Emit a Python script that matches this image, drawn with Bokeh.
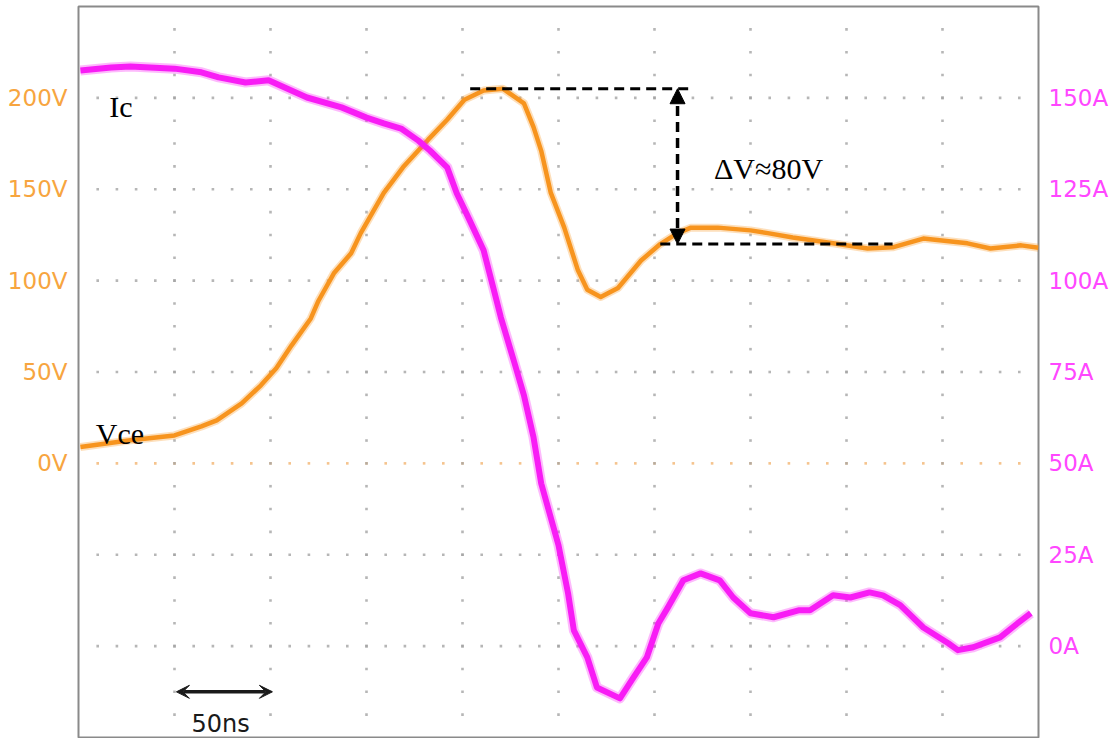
import numpy as np
from bokeh.plotting import figure
from bokeh.models import Range1d, LinearAxis, FixedTicker, Label, Arrow, NormalHead, VeeHead
from bokeh.embed import file_html
from bokeh.resources import INLINE

# Turn-off transient: time in ns, collector-emitter voltage in V, collector current in A
vce_t = [1, 27, 50, 64, 72, 85, 95, 103, 111, 121, 125, 133, 142, 147, 159, 169, 182, 192, 201,
         211, 221, 232, 237, 241, 246, 253, 260, 265, 272, 281, 293, 303, 312, 319, 333, 350,
         359, 372, 393, 411, 424, 440, 463, 475, 491, 500]
vce_v = [9, 12.6, 15.3, 20.2, 23.5, 32.8, 42.7, 52, 64.6, 79.3, 89, 104, 115, 126, 148, 162, 177,
         188, 199, 204, 205, 197, 184, 171, 148, 129, 106, 95, 91, 96, 111, 120, 126, 129, 129,
         127.5, 126, 123.6, 120.4, 117.6, 118.2, 123, 120.4, 117.6, 119.3, 118]

ic_t = [1, 17, 27, 50, 64, 73, 87, 99, 119, 137, 150, 159, 168, 177, 183, 192, 197, 203, 211,
        216, 220, 227, 232, 237, 241, 250, 255, 258, 265, 270, 282, 289, 296, 302, 307, 315,
        324, 334, 341, 350, 362, 375, 381, 393, 402, 412, 419, 428, 440, 453, 458, 466, 480,
        489, 496]
ic_a = [157.5, 158.3, 158.6, 158, 157, 155.6, 154.2, 154.8, 150.1, 147.4, 144.6, 143, 141.6,
        138.3, 135.6, 131, 123.9, 117.3, 108.3, 98.1, 89.9, 77.6, 68.6, 57.1, 44.5, 27.6, 14.4,
        4.3, -3.1, -11.3, -14.3, -8.6, -3.1, 6.2, 10.6, 18, 19.9, 18, 13.3, 9, 7.9, 9.8, 9.8,
        13.9, 13.3, 14.7, 13.9, 11.2, 5.1, 0.8, -1.1, -0.3, 2.4, 6.2, 9]

volt_ticks = [0, 50, 100, 150, 200]
volt_labels = ["0V", "50V", "100V", "150V", "200V"]
amp_ticks = [0, 25, 50, 75, 100, 125, 150]
amp_labels = ["0A", "25A", "50A", "75A", "100A", "125A", "150A"]

# overshoot markers: peak level and settled level of Vce
peak_v = 205
settle_v = 120
peak_span = (204, 320)
settle_span = (303, 424)
dv_t = 312

# screen layout: 10 x 8 divisions, 50 ns and 50 V per division
T0, T1, NX = 0, 500, 10
V0, V1, NY = -150, 250, 8
A0, A1 = -25, 175

ORANGE = "#F7941E"
ORANGE_TXT = "#F7A53F"
MAGENTA = "#F81CF5"
MAGENTA_TXT = "#FF47FF"
DOT = "#a4a4a4"
DOT_CH1 = "#F2B470"

p = figure(width=1115, height=738,
           x_range=Range1d(T0, T1), y_range=Range1d(V0, V1),
           output_backend="svg", toolbar_location=None,
           x_axis_location=None, y_axis_location=None,
           min_border_left=78, min_border_right=77,
           min_border_top=6, min_border_bottom=1)
p.extra_y_ranges = {"amps": Range1d(A0, A1)}
p.grid.visible = False
p.background_fill_color = "white"
p.border_fill_color = "white"
p.outline_line_color = "#8a8a8a"
p.outline_line_width = 2

# dotted graticule (the 0 V reference line of channel 1 is tinted)
dx = (T1 - T0) / NX
dy = (V1 - V0) / NY
h_lines = [V0 + k * dy for k in range(1, NY)]
v_lines = [T0 + k * dx for k in range(1, NX)]
hx, hy, hc = [], [], []
for yv in h_lines:
    xs = np.arange(T0 + dx / 5, T1 - 1e-6, dx / 5)
    hx.extend(xs)
    hy.extend([yv] * len(xs))
    hc.extend([DOT_CH1 if yv == 0 else DOT] * len(xs))
vx, vy = [], []
for xv in v_lines:
    ys = np.arange(V0 + dy / 4, V1 - 1e-6, dy / 4)
    vx.extend([xv] * len(ys))
    vy.extend(ys)
p.scatter(hx, hy, size=2.6, color=hc, marker="square", line_color=None, alpha=0.8)
p.scatter(vx, vy, size=2.6, color=DOT, marker="square", line_color=None, alpha=0.8)

# axes with channel scale labels
left = LinearAxis(ticker=FixedTicker(ticks=volt_ticks),
                  major_label_overrides={t: s for t, s in zip(volt_ticks, volt_labels)},
                  axis_line_color=None, major_tick_line_color=None, minor_tick_line_color=None,
                  major_label_text_color=ORANGE_TXT, major_label_text_font="DejaVu Sans",
                  major_label_text_font_size="23px", major_label_standoff=5)
p.add_layout(left, "left")
right = LinearAxis(y_range_name="amps", ticker=FixedTicker(ticks=amp_ticks),
                   major_label_overrides={t: s for t, s in zip(amp_ticks, amp_labels)},
                   axis_line_color=None, major_tick_line_color=None, minor_tick_line_color=None,
                   major_label_text_color=MAGENTA_TXT, major_label_text_font="DejaVu Sans",
                   major_label_text_font_size="23px", major_label_standoff=4)
p.add_layout(right, "right")

# traces (soft halo under a solid core)
p.line(vce_t, vce_v, line_color=ORANGE, line_width=8, line_alpha=0.3, line_join="round")
p.line(vce_t, vce_v, line_color=ORANGE, line_width=4.5, line_join="round")
p.line(ic_t, ic_a, y_range_name="amps", line_color=MAGENTA, line_width=10, line_alpha=0.3,
       line_join="round")
p.line(ic_t, ic_a, y_range_name="amps", line_color=MAGENTA, line_width=6, line_join="round")

# overshoot dimension lines
p.segment(x0=[peak_span[0], settle_span[0]], y0=[peak_v, settle_v],
          x1=[peak_span[1], settle_span[1]], y1=[peak_v, settle_v],
          line_color="black", line_width=3, line_dash="10 6")
p.add_layout(Arrow(start=NormalHead(size=15, fill_color="black", line_color="black"),
                   end=NormalHead(size=15, fill_color="black", line_color="black"),
                   x_start=dv_t, y_start=settle_v, x_end=dv_t, y_end=peak_v,
                   line_color="black", line_width=3.5, line_dash="10 6"))
p.add_layout(Label(x=331, y=161.5, text="ΔV≈80V", text_font="Liberation Serif",
                   text_font_size="30px", text_color="black", text_baseline="alphabetic"))

# trace names
p.add_layout(Label(x=16, y=195.5, text="Ic", text_font="Liberation Serif",
                   text_font_size="30px", text_color="black", text_baseline="alphabetic"))
p.add_layout(Label(x=9, y=16.5, text="Vce", text_font="Liberation Serif",
                   text_font_size="30px", text_color="black", text_baseline="alphabetic"))

# time-base scale bar
bar_start, bar_len = 51, 50
bar_v = -125
p.add_layout(Arrow(start=VeeHead(size=13, fill_color="#1a1a1a", line_color="#1a1a1a"),
                   end=VeeHead(size=13, fill_color="#1a1a1a", line_color="#1a1a1a"),
                   x_start=bar_start, y_start=bar_v, x_end=bar_start + bar_len, y_end=bar_v,
                   line_color="#1a1a1a", line_width=3.5))
p.add_layout(Label(x=bar_start + bar_len / 2 - 2, y=-142.5, text=f"{bar_len}ns",
                   text_font="DejaVu Sans", text_font_size="24px", text_color="#1a1a1a",
                   text_align="center", text_baseline="alphabetic"))

open("out.html", "w").write(file_html(p, INLINE))
